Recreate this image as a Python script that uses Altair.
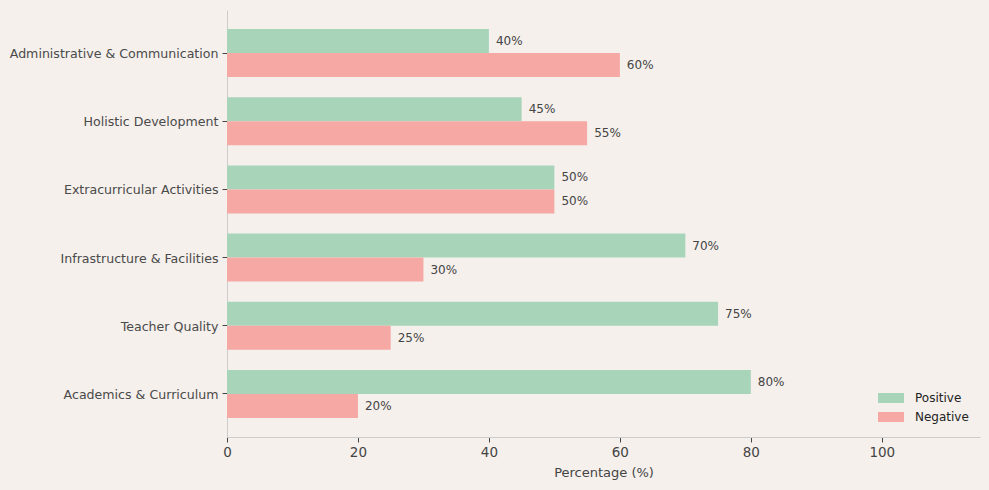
import altair as alt
import pandas as pd

categories = ["Administrative & Communication", "Holistic Development", "Extracurricular Activities",
              "Infrastructure & Facilities", "Teacher Quality", "Academics & Curriculum"]
positive = [40, 45, 50, 70, 75, 80]
negative = [60, 55, 50, 30, 25, 20]
sentiments = ["Positive", "Negative"]
colors = ["#a8d5ba", "#f6a8a4"]
x_ticks = [0, 20, 40, 60, 80, 100]
BG = "#f5f0ec"

rows = []
for c, p, n in zip(categories, positive, negative):
    rows.append({"Category": c, "Sentiment": "Positive", "Value": p, "Label": f"{p}%"})
    rows.append({"Category": c, "Sentiment": "Negative", "Value": n, "Label": f"{n}%"})
df = pd.DataFrame(rows)

y_enc = alt.Y("Category:N", sort=categories, title=None,
              scale=alt.Scale(paddingInner=0.296, paddingOuter=0.28),
              axis=alt.Axis(labelFont="DejaVu Sans", labelFontSize=12.6, labelColor="#4a4a4a",
                            domainColor="#cccccc", tickColor="#444444", tickSize=5,
                            labelPadding=4, labelLimit=400, labelBaseline="middle", labelOffset=1))
yoff = alt.YOffset("Sentiment:N", sort=sentiments, scale=alt.Scale(paddingInner=0, paddingOuter=0))
x_enc = alt.X("Value:Q", title="Percentage (%)",
              scale=alt.Scale(domain=[0, 115], nice=False),
              axis=alt.Axis(values=x_ticks, grid=False, labelFont="DejaVu Sans", labelFontSize=13.5,
                            labelColor="#444444", labelFlush=False, titleFont="DejaVu Sans",
                            titleFontSize=13, titleFontWeight="normal", titleColor="#444444",
                            domainColor="#cccccc", tickColor="#444444", tickSize=5,
                            labelPadding=3, titlePadding=8))

bars = alt.Chart(df).mark_bar(size=24).encode(
    y=y_enc, yOffset=yoff, x=x_enc,
    color=alt.Color("Sentiment:N", sort=sentiments,
                    scale=alt.Scale(domain=sentiments, range=colors),
                    legend=alt.Legend(title=None, orient="none", legendX=658, legendY=382,
                                      symbolType="M-2.6,-1H2.6V1H-2.6Z", symbolSize=100,
                                      symbolStrokeWidth=0, labelFont="DejaVu Sans", labelFontSize=12,
                                      labelColor="#222222", labelOffset=18, rowPadding=7, padding=0))
)

text = alt.Chart(df).mark_text(align="left", baseline="middle", dx=7, font="DejaVu Sans",
                               fontSize=12, color="#444444").encode(
    y=alt.Y("Category:N", sort=categories), yOffset=alt.YOffset("Sentiment:N", sort=sentiments),
    x="Value:Q", text="Label:N"
)

chart = (bars + text).properties(
    width=753, height=427, background=BG,
    autosize=alt.AutoSizeParams(type="none"),
    padding={"left": 219, "top": 2, "right": 1, "bottom": 45}
).configure_view(stroke=None)

chart.save("out.html", embed_options={"renderer": "svg", "actions": False})

with open("out.html", "r", encoding="utf-8") as f:
    html = f.read()
html = html.replace("</head>", f"<style>html, body {{ background: {BG}; }}</style></head>", 1)
with open("out.html", "w", encoding="utf-8") as f:
    f.write(html)
